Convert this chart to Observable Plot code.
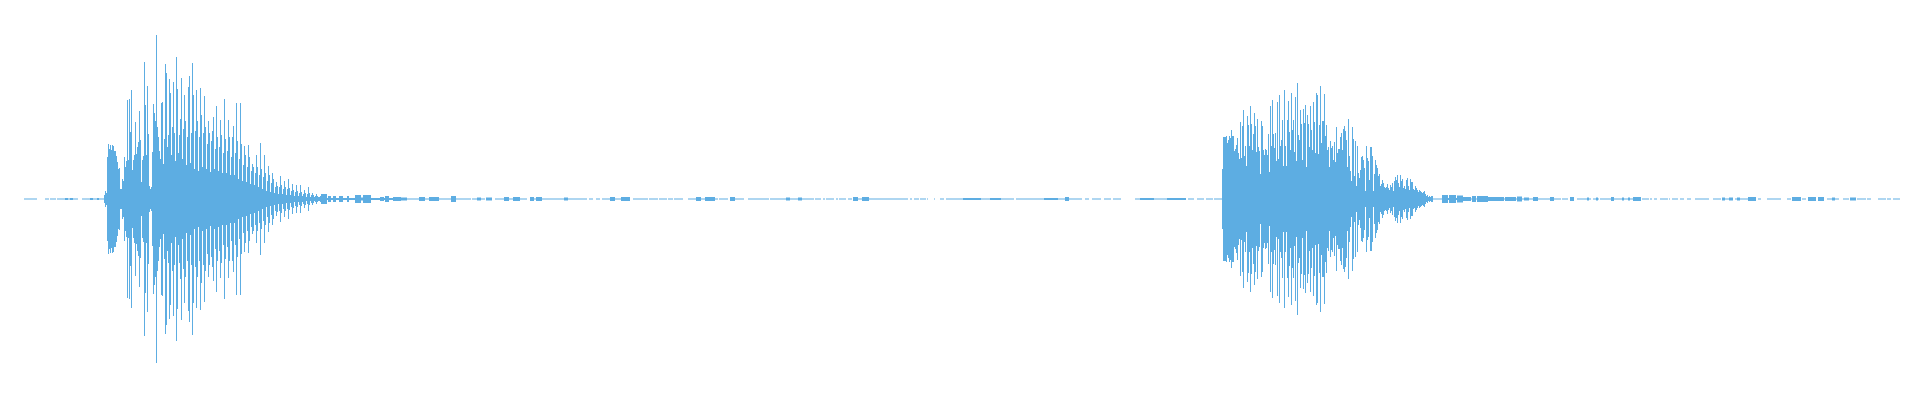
<!DOCTYPE html>
<html>
<head>
<meta charset="utf-8">
<script src="https://cdn.jsdelivr.net/npm/d3@7"></script>
<script src="https://cdn.jsdelivr.net/npm/@observablehq/plot@0.6"></script>
<style>
  html, body { margin: 0; padding: 0; background: #ffffff; }
  #chart svg { display: block; }
</style>
</head>
<body>
<div id="chart"></div>
<script>
// Waveform envelope: frame index (time bins) and symmetric peak amplitude per frame.
const frameCount = 1876;
const amplitudeMax = 179;

// First burst (per-frame peak amplitude), starting at frame 80
const burst1Start = 80;
const burst1 = [
  4, 8, 6, 42, 55, 50, 54, 49, 54, 53,
  48, 48, 43, 37, 30, 31, 10, 10, 20, 18,
  42, 32, 38, 99, 39, 100, 67, 109, 29, 39,
  44, 77, 45, 52, 57, 88, 59, 17, 39, 43,
  137, 94, 44, 113, 65, 13, 10, 12, 47, 95,
  86, 78, 164, 72, 62, 48, 40, 96, 97, 35,
  60, 135, 126, 52, 64, 120, 106, 44, 72, 117,
  66, 38, 142, 110, 46, 64, 80, 121, 40, 70,
  104, 78, 34, 62, 112, 123, 36, 66, 136, 104,
  30, 68, 109, 78, 28, 62, 111, 84, 32, 66,
  103, 72, 30, 55, 78, 66, 27, 58, 68, 82,
  30, 50, 93, 62, 28, 52, 79, 64, 26, 46,
  100, 60, 26, 48, 79, 62, 24, 42, 62, 73,
  24, 46, 96, 58, 20, 40, 96, 55, 18, 34,
  53, 44, 17, 32, 54, 42, 15, 28, 35, 32,
  14, 26, 44, 32, 12, 24, 56, 30, 10, 22,
  44, 26, 8, 18, 33, 24, 7, 16, 26, 20,
  6, 12, 17, 13, 5, 12, 23, 14, 5, 10,
  18, 12, 4, 10, 20, 11, 4, 8, 15, 9,
  3, 7, 14, 8, 3, 6, 14, 7, 3, 5,
  9, 6, 2, 5, 12, 6, 2, 4, 6, 4,
  2, 3, 5, 3, 2, 2, 3
];

// Second burst (per-frame peak amplitude), starting at frame 1198
const burst2Start = 1198;
const burst2 = [
  30, 62, 62, 62, 63, 56, 59, 63, 61, 69,
  63, 63, 48, 50, 54, 61, 46, 40, 77, 41,
  73, 89, 43, 53, 33, 83, 74, 53, 93, 75,
  49, 65, 86, 73, 47, 80, 52, 48, 25, 78,
  73, 49, 44, 50, 49, 44, 65, 27, 93, 53,
  99, 65, 51, 66, 38, 97, 40, 104, 53, 59,
  79, 33, 109, 53, 33, 79, 98, 67, 49, 106,
  69, 79, 47, 102, 38, 116, 64, 59, 89, 75,
  39, 90, 76, 94, 32, 84, 75, 52, 93, 69,
  49, 97, 77, 46, 106, 104, 45, 74, 113, 56,
  78, 78, 105, 63, 74, 49, 52, 32, 58, 51,
  53, 39, 57, 37, 72, 46, 50, 50, 62, 66,
  49, 70, 73, 68, 59, 32, 80, 43, 28, 18,
  72, 60, 23, 58, 13, 53, 26, 21, 29, 42,
  43, 39, 31, 8, 53, 41, 38, 19, 52, 52,
  43, 8, 25, 39, 34, 31, 23, 25, 13, 15,
  19, 16, 12, 11, 12, 15, 11, 9, 14, 12,
  16, 8, 18, 22, 19, 24, 16, 12, 24, 18,
  20, 11, 13, 10, 19, 21, 13, 9, 20, 17,
  17, 10, 9, 13, 11, 9, 7, 9, 8, 7,
  6, 7, 8, 5, 3, 4, 2, 3, 2, 3, 3
];

// Low-level stretches: [firstFrame, lastFrame, peak amplitude]
const quietRuns = [
  [0,12,.5],[21,24,.5],[26,31,.5],[33,40,.5],[41,43,1],[44,45,.5],[46,48,1],[49,53,.5],
  [58,65,.5],[66,68,1],[69,72,.5],[73,74,1],[75,79,.5],
  [297,302,5],[303,303,1],[304,306,3],[307,308,1],[309,311,3],[312,314,1],[315,318,3],
  [319,322,1],[323,324,3],[325,330,1],[331,336,4],[337,338,1.5],[339,346,4],[347,355,1],
  [356,359,2],[360,360,1],[361,364,3],[365,368,1],[369,376,2],[377,382,1.5],[383,394,.5],
  [395,400,2],[401,404,.5],[405,414,2],[415,426,.5],[427,431,3],[432,440,.5],[441,446,.5],
  [448,452,.5],[453,456,1.5],[457,460,.5],[462,467,1.5],[471,479,.5],[480,484,2],[485,488,.5],
  [489,495,2],[496,502,.5],[506,509,2],[510,511,.5],[512,517,2],[518,525,.5],[526,539,.5],
  [540,543,1.5],[544,562,.5],[565,568,.5],[572,575,.5],[578,585,.5],[586,590,2],[591,596,.5],
  [597,605,2],[609,623,.5],[625,633,.5],[635,642,.5],[644,648,.5],[650,658,.5],[664,671,.5],
  [672,676,2],[677,680,.5],[681,690,2],[691,693,.5],[695,703,.5],[706,710,2],[711,719,.5],
  [724,744,.5],[746,761,.5],[762,765,1.5],[766,773,.5],[774,777,1.5],[778,789,.5],[791,796,.5],
  [799,800,.5],[802,809,.5],[812,813,.5],[815,821,.5],[824,827,.5],[829,833,2],[834,837,.5],
  [838,844,2],[845,849,.5],[850,883,.5],[886,887,.5],[890,894,.5],[896,901,.5],[903,903,.5],
  [910,910,.5],[916,919,.5],[922,925,.5],[926,938,.5],[939,956,1],[957,965,.5],[966,976,1],
  [977,989,.5],[992,1019,.5],[1020,1033,1],[1034,1040,.5],[1041,1044,2],[1045,1057,.5],
  [1061,1064,.5],[1068,1076,.5],[1080,1086,.5],[1089,1096,.5],[1111,1115,.5],[1116,1129,1],
  [1130,1142,.5],[1143,1161,1],[1164,1169,.5],[1173,1179,.5],[1182,1188,.5],[1190,1197,.5],
  [1409,1417,.5],[1418,1423,4],[1424,1424,1],[1425,1431,4],[1432,1432,1],[1433,1438,3.5],
  [1439,1446,2],[1447,1447,.5],[1448,1451,3],[1452,1452,.5],[1453,1458,3],[1459,1463,3],
  [1464,1479,2],[1480,1480,.5],[1481,1491,2],[1492,1492,.5],[1493,1497,2.5],[1498,1499,.5],
  [1500,1504,1.5],[1505,1508,.5],[1509,1513,2],[1514,1525,.5],[1526,1529,2],[1530,1536,.5],
  [1538,1538,.5],[1539,1543,.5],[1546,1549,2],[1553,1558,.5],[1559,1562,.5],[1563,1564,1.5],
  [1565,1566,.5],[1569,1571,.5],[1572,1573,1.5],[1574,1574,.5],[1576,1586,.5],[1587,1589,2],
  [1590,1593,.5],[1594,1597,.5],[1598,1599,1.5],[1600,1603,.5],[1604,1605,1.5],[1606,1608,.5],
  [1609,1616,2],[1618,1624,.5],[1626,1627,.5],[1630,1632,.5],[1636,1643,.5],[1645,1645,.5],
  [1648,1653,.5],[1656,1659,.5],[1663,1666,.5],[1671,1684,.5],[1689,1696,.5],[1698,1700,1.5],
  [1701,1704,.5],[1705,1708,1.5],[1711,1712,.5],[1713,1715,1.5],[1716,1723,.5],[1724,1731,2],
  [1734,1736,.5],[1743,1756,.5],[1763,1766,.5],[1768,1776,2],[1778,1781,.5],[1784,1791,2],
  [1794,1799,2],[1803,1807,.5],[1808,1810,1.5],[1811,1814,.5],[1819,1824,.5],[1826,1831,1.5],
  [1833,1841,.5],[1843,1846,.5],[1854,1861,.5],[1863,1866,.5],[1869,1875,.5]
];

// Build the table of frames
const samples = [];
burst1.forEach((a, i) => samples.push({t: burst1Start + i, a}));
burst2.forEach((a, i) => samples.push({t: burst2Start + i, a}));
quietRuns.forEach(([t0, t1, a]) => {
  for (let t = t0; t <= t1; t++) samples.push({t, a});
});

const chart = Plot.plot({
  width: 1920,
  height: 400,
  marginLeft: 24,
  marginRight: 20,
  marginTop: 20,
  marginBottom: 22,
  x: {domain: [0, frameCount], axis: null},
  y: {domain: [-amplitudeMax, amplitudeMax], axis: null},
  marks: [
    Plot.ruleX(samples, {
      x: "t",
      y1: d => -d.a,
      y2: d => d.a,
      stroke: "#5DADE2",
      strokeWidth: 1
    })
  ]
});
document.getElementById("chart").appendChild(chart);
</script>
</body>
</html>
